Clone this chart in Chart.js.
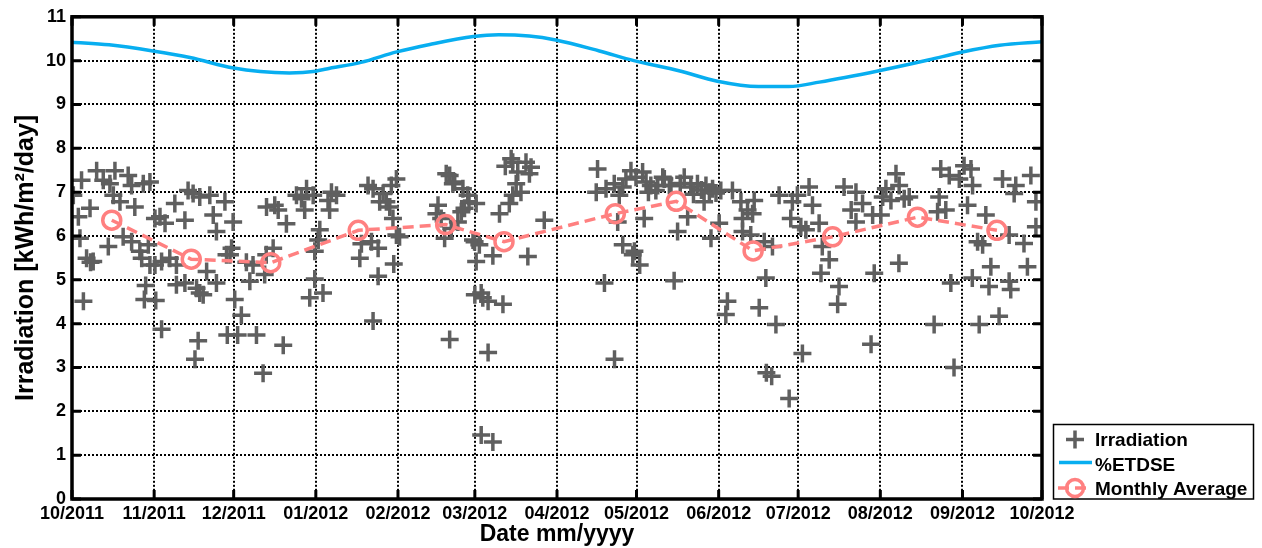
<!DOCTYPE html>
<html>
<head>
<meta charset="utf-8">
<title>Irradiation</title>
<script src="https://cdn.jsdelivr.net/npm/chart.js@4.4.1/dist/chart.umd.min.js"></script>
<style>
  html, body { margin: 0; padding: 0; background: #fff; }
  #wrap { width: 1262px; height: 548px; position: relative; }
</style>
</head>
<body>
<div id="wrap"><canvas id="chart"></canvas></div>
<script>
// x values are days since 1 Oct 2011
const monthTicks = [0, 31, 61, 92, 123, 152, 183, 213, 244, 274, 305, 336, 366];
const monthLabels = ['10/2011', '11/2011', '12/2011', '01/2012', '02/2012', '03/2012', '04/2012',
  '05/2012', '06/2012', '07/2012', '08/2012', '09/2012', '10/2012'];

// daily irradiation [day, kWh/m2/day]
const irradiation = [
  // Oct 2011
  [0.5, 6.93], [2.4, 6.44], [3.0, 5.95], [3.6, 7.27], [4.3, 4.51], [5.5, 5.49], [6.8, 6.63], [7.0, 5.40],
  [8.0, 5.42], [9.3, 7.49], [11.8, 7.27], [13.7, 5.76], [14.3, 7.19], [15.6, 6.93], [16.2, 7.49], [18.1, 6.78],
  [19.3, 5.98], [21.2, 7.38], [22.5, 7.15], [22.5, 5.87], [23.7, 6.66], [25.6, 5.65], [26.3, 5.49], [26.9, 7.19],
  [27.3, 4.55], [27.8, 4.87], [28.8, 5.80], [29.4, 7.23], [29.4, 5.34],
  // Nov
  [31.3, 6.40], [31.3, 5.34], [31.6, 4.53], [33.2, 6.44], [33.8, 5.42], [33.8, 3.87], [35.1, 6.29], [36.9, 5.49],
  [38.8, 6.74], [39.4, 5.34], [39.4, 4.89], [42.6, 6.36], [42.6, 4.93], [43.8, 7.04], [45.7, 6.97], [46.4, 3.19],
  [47.0, 4.81], [47.6, 3.61], [48.2, 6.89], [48.2, 4.70], [49.5, 4.66], [50.8, 5.19], [52.0, 6.93], [53.3, 6.48],
  [54.5, 6.10], [54.5, 4.93], [57.7, 6.78], [58.3, 5.57], [58.6, 3.74], [59.6, 5.57], [60.2, 5.72], [60.8, 6.32],
  // Dec
  [61.4, 4.55], [62.5, 3.74], [63.9, 4.19], [65.8, 5.40], [67.1, 4.97], [68.3, 5.34], [69.6, 3.74], [72.1, 2.87],
  [72.7, 5.12], [73.3, 5.57], [73.4, 6.66], [75.9, 5.72], [76.5, 6.70], [77.8, 6.59], [79.7, 3.51], [80.9, 6.28],
  [84.7, 6.93], [86.6, 6.85], [87.8, 6.59], [88.5, 7.08], [89.7, 4.59],
  // Jan 2012
  [91.0, 6.93], [91.6, 5.65], [91.6, 5.02], [92.9, 5.91], [93.5, 6.14], [94.7, 4.70], [96.6, 6.81], [97.2, 6.59],
  [97.9, 7.00], [99.8, 6.93], [108.6, 5.49], [109.2, 5.82], [111.7, 7.15], [113.0, 5.87], [113.6, 7.08], [113.6, 4.06],
  [115.5, 5.08], [115.5, 5.72], [116.1, 6.78], [117.4, 6.97], [118.6, 6.78], [119.9, 6.66], [120.5, 7.15], [121.1, 6.40],
  [121.4, 5.36], [122.4, 7.30], [122.4, 6.02],
  // Feb
  [123.6, 5.98], [137.5, 6.51], [138.1, 6.70], [139.3, 6.40], [140.6, 5.95], [141.2, 7.42], [142.5, 7.38], [142.5, 3.64],
  [143.1, 6.17], [143.7, 7.19], [144.4, 7.23], [145.6, 6.32], [146.9, 6.55], [147.5, 7.08], [148.1, 6.63], [149.3, 6.93],
  [149.8, 6.78], [151.3, 5.91],
  // Mar
  [151.9, 5.87], [152.0, 4.66], [152.5, 6.74], [152.5, 5.42], [153.7, 5.80], [154.4, 4.70], [154.4, 1.46], [155.0, 4.59],
  [157.0, 4.51], [157.0, 3.34], [158.8, 5.55], [158.8, 1.30], [161.3, 6.51], [162.6, 4.44], [163.5, 7.59], [165.0, 6.74],
  [165.7, 7.76], [166.3, 7.68], [166.3, 6.93], [167.6, 7.19], [168.2, 7.46], [169.4, 7.00], [171.3, 7.68], [172.0, 5.53],
  [172.6, 7.42], [173.2, 7.57], [178.2, 6.36],
  // Apr
  [197.8, 7.00], [198.3, 7.53], [200.9, 4.93], [201.5, 7.08], [204.6, 7.19], [204.7, 3.19], [205.9, 6.32], [206.5, 6.93],
  [207.8, 7.12], [207.8, 5.80], [209.0, 7.30], [210.9, 7.49], [211.6, 5.57], [212.2, 5.65],
  // May
  [212.8, 7.34], [214.2, 5.34], [215.3, 7.46], [215.9, 6.40], [216.6, 7.23], [217.5, 7.00], [218.4, 7.15], [220.3, 7.04],
  [221.0, 7.15], [222.9, 7.34], [223.5, 7.30], [225.4, 7.15], [226.0, 7.15], [227.2, 4.98], [228.5, 6.10], [229.5, 7.20],
  [231.0, 7.34], [232.3, 6.44], [233.5, 7.12], [234.5, 6.95], [236.0, 7.19], [237.5, 7.05], [238.5, 6.78], [239.2, 7.15],
  [240.5, 7.00], [241.1, 5.95], [241.7, 7.08], [243.0, 6.98],
  // Jun
  [244.2, 6.29], [244.8, 7.04], [246.7, 4.21], [247.3, 4.51], [249.2, 7.04], [252.4, 6.78], [253.0, 6.40], [253.0, 6.10],
  [254.9, 6.59], [256.1, 6.02], [256.8, 6.51], [257.4, 6.81], [259.3, 4.36], [261.2, 5.87], [261.8, 5.04], [262.0, 2.88],
  [264.0, 2.80], [264.3, 5.76], [265.6, 3.98], [266.8, 6.93], [270.6, 2.29], [271.2, 6.40], [271.8, 6.78], [273.7, 6.93],
  // Jul
  [275.0, 6.21], [275.6, 3.32], [276.9, 6.14], [278.1, 7.12], [279.4, 6.70], [281.9, 6.29], [282.6, 5.15], [283.1, 5.76],
  [285.7, 5.46], [288.9, 4.44], [289.4, 4.85], [291.3, 7.12], [294.0, 6.59], [295.8, 7.00], [295.8, 6.32], [298.3, 6.74],
  [301.5, 3.53], [302.1, 6.48], [302.7, 5.15],
  // Aug
  [305.2, 6.48], [305.9, 6.89], [307.1, 7.08], [309.0, 6.81], [310.9, 7.42], [312.0, 5.38], [312.1, 7.15], [314.0, 6.85],
  [315.9, 6.89], [325.3, 3.98], [326.6, 6.55], [327.2, 6.89], [327.8, 7.53], [329.7, 6.59], [331.0, 7.38], [331.6, 4.93],
  [332.8, 3.00], [334.8, 7.30],
  // Sep
  [336.6, 7.60], [337.9, 6.70], [339.2, 7.53], [339.7, 5.04], [339.8, 7.15], [341.7, 5.87], [342.3, 3.98], [343.6, 5.80],
  [344.8, 6.48], [346.0, 4.85], [346.7, 5.30], [349.8, 4.17], [351.1, 7.30], [353.6, 4.97], [353.6, 6.02], [354.2, 4.78],
  [355.5, 6.97], [356.1, 7.15], [359.2, 5.83], [360.5, 5.30], [361.8, 7.38], [363.7, 6.78], [363.7, 6.21]
];

// %ETDSE curve [day, value]
const etdse = [
  [0, 10.42], [14, 10.36], [30.5, 10.22], [44.5, 10.07], [61, 9.83], [71, 9.75], [82, 9.72], [92, 9.76],
  [96, 9.81], [109, 9.96], [122.5, 10.2], [135, 10.37], [151.5, 10.55], [161, 10.59], [172.5, 10.56], [182.5, 10.47],
  [199, 10.22], [212, 10.0], [229, 9.77], [243.5, 9.53], [259, 9.41], [270.5, 9.41], [282, 9.51], [304.5, 9.77],
  [323.5, 10.02], [335.5, 10.19], [350, 10.35], [366, 10.43]
];

const monthlyAvg = [
  [15, 6.36], [45, 5.47], [75, 5.39], [108, 6.13], [141, 6.26], [163, 5.87],
  [205, 6.51], [228, 6.79], [257, 5.66], [287, 5.98], [319, 6.43], [349, 6.13]
];

const GREY = '#5f5f5f';
const BLUE = '#08aef0';
const SALMON = '#ff8080';
const FONT = 'Liberation Sans, Arial, Helvetica, sans-serif';

const toXY = arr => arr.map(p => ({ x: p[0], y: p[1] }));

// box and inward ticks like the original figure
const framePlugin = {
  id: 'frame',
  afterDatasetsDraw(chart) {
    const { ctx, chartArea: a, scales: { x, y } } = chart;
    ctx.save();
    ctx.strokeStyle = '#000';
    ctx.lineWidth = 3;
    ctx.beginPath();
    monthTicks.forEach(v => {
      const px = x.getPixelForValue(v);
      ctx.moveTo(px, a.bottom); ctx.lineTo(px, a.bottom - 9);
      ctx.moveTo(px, a.top); ctx.lineTo(px, a.top + 9);
    });
    for (let v = 0; v <= 11; v++) {
      const py = y.getPixelForValue(v);
      ctx.moveTo(a.left, py); ctx.lineTo(a.left + 9, py);
      ctx.moveTo(a.right, py); ctx.lineTo(a.right - 9, py);
    }
    ctx.stroke();
    ctx.lineWidth = 3.5;
    ctx.strokeRect(a.left, a.top, a.right - a.left, a.bottom - a.top);
    ctx.restore();
  }
};

// legend box below right of the plot
const legendPlugin = {
  id: 'boxLegend',
  afterDraw(chart) {
    const { ctx, chartArea: a } = chart;
    const bx = a.right + 11.5, by = a.bottom - 74.5, bw = 200, bh = 74.5;
    const sx = bx + 21.5, tx = bx + 41.5;
    ctx.save();
    ctx.fillStyle = '#fff';
    ctx.fillRect(bx, by, bw, bh);
    ctx.strokeStyle = '#000';
    ctx.lineWidth = 1.5;
    ctx.strokeRect(bx, by, bw, bh);

    // cross
    ctx.strokeStyle = GREY;
    ctx.lineWidth = 3.5;
    ctx.beginPath();
    ctx.moveTo(sx - 9, by + 15); ctx.lineTo(sx + 9, by + 15);
    ctx.moveTo(sx, by + 6); ctx.lineTo(sx, by + 24);
    ctx.stroke();

    // line
    ctx.strokeStyle = BLUE;
    ctx.lineWidth = 3.5;
    ctx.beginPath();
    ctx.moveTo(sx - 16, by + 38); ctx.lineTo(sx + 17, by + 38);
    ctx.stroke();

    // dashed line with circle
    ctx.strokeStyle = SALMON;
    ctx.lineWidth = 3.5;
    ctx.setLineDash([11, 6]);
    ctx.beginPath();
    ctx.moveTo(sx - 17, by + 63.5); ctx.lineTo(sx + 17, by + 63.5);
    ctx.stroke();
    ctx.setLineDash([]);
    ctx.beginPath();
    ctx.arc(sx, by + 63.5, 8.5, 0, Math.PI * 2);
    ctx.stroke();

    ctx.fillStyle = '#000';
    ctx.font = 'bold 19px ' + FONT;
    ctx.textBaseline = 'alphabetic';
    ctx.textAlign = 'left';
    ctx.fillText('Irradiation', tx, by + 21.5);
    ctx.fillText('%ETDSE', tx, by + 46);
    ctx.fillText('Monthly Average', tx, by + 70.5);
    ctx.restore();
  }
};

new Chart(document.getElementById('chart'), {
  type: 'scatter',
  data: {
    datasets: [
      {
        label: 'Irradiation',
        data: toXY(irradiation),
        pointStyle: 'cross',
        pointRadius: 9,
        pointHoverRadius: 9,
        borderColor: GREY,
        borderWidth: 3.5,
        showLine: false,
        order: 2
      },
      {
        label: '%ETDSE',
        type: 'line',
        data: toXY(etdse),
        borderColor: BLUE,
        borderWidth: 3.5,
        pointRadius: 0,
        cubicInterpolationMode: 'monotone',
        fill: false,
        order: 1
      },
      {
        label: 'Monthly Average',
        type: 'line',
        data: toXY(monthlyAvg),
        borderColor: SALMON,
        borderWidth: 3.5,
        borderDash: [11, 6],
        pointStyle: 'circle',
        pointRadius: 9,
        pointBorderWidth: 3.5,
        pointBorderColor: SALMON,
        pointBackgroundColor: 'rgba(0,0,0,0)',
        tension: 0,
        fill: false,
        order: 0
      }
    ]
  },
  options: {
    responsive: true,
    maintainAspectRatio: false,
    animation: false,
    layout: { padding: { top: 13, right: 220, left: 0, bottom: 0 } },
    plugins: {
      legend: { display: false },
      tooltip: { enabled: false }
    },
    scales: {
      x: {
        type: 'linear',
        min: 0,
        max: 366,
        afterBuildTicks: scale => { scale.ticks = monthTicks.map(v => ({ value: v })); },
        afterFit: scale => { scale.height = 49; },
        ticks: {
          autoSkip: false,
          maxRotation: 0,
          padding: 4,
          color: '#000',
          font: { family: FONT, size: 18, weight: 'bold' },
          callback: (v, i) => monthLabels[i]
        },
        grid: { color: '#000', lineWidth: 2, drawTicks: false },
        border: { display: false, dash: [2, 2] },
        title: {
          display: true,
          text: 'Date mm/yyyy',
          color: '#000',
          padding: { top: 0, bottom: 0 },
          font: { family: FONT, size: 23, weight: 'bold' }
        }
      },
      y: {
        min: 0,
        max: 11,
        afterFit: scale => { scale.width = 72; },
        ticks: {
          stepSize: 1,
          padding: 6,
          color: '#000',
          font: { family: FONT, size: 18, weight: 'bold' }
        },
        grid: { color: '#000', lineWidth: 2, drawTicks: false },
        border: { display: false, dash: [2, 2] },
        title: {
          display: true,
          text: 'Irradiation [kWh/m²/day]',
          color: '#000',
          padding: { top: 11, bottom: 0 },
          font: { family: FONT, size: 25, weight: 'bold' }
        }
      }
    }
  },
  plugins: [framePlugin, legendPlugin]
});
</script>
</body>
</html>
